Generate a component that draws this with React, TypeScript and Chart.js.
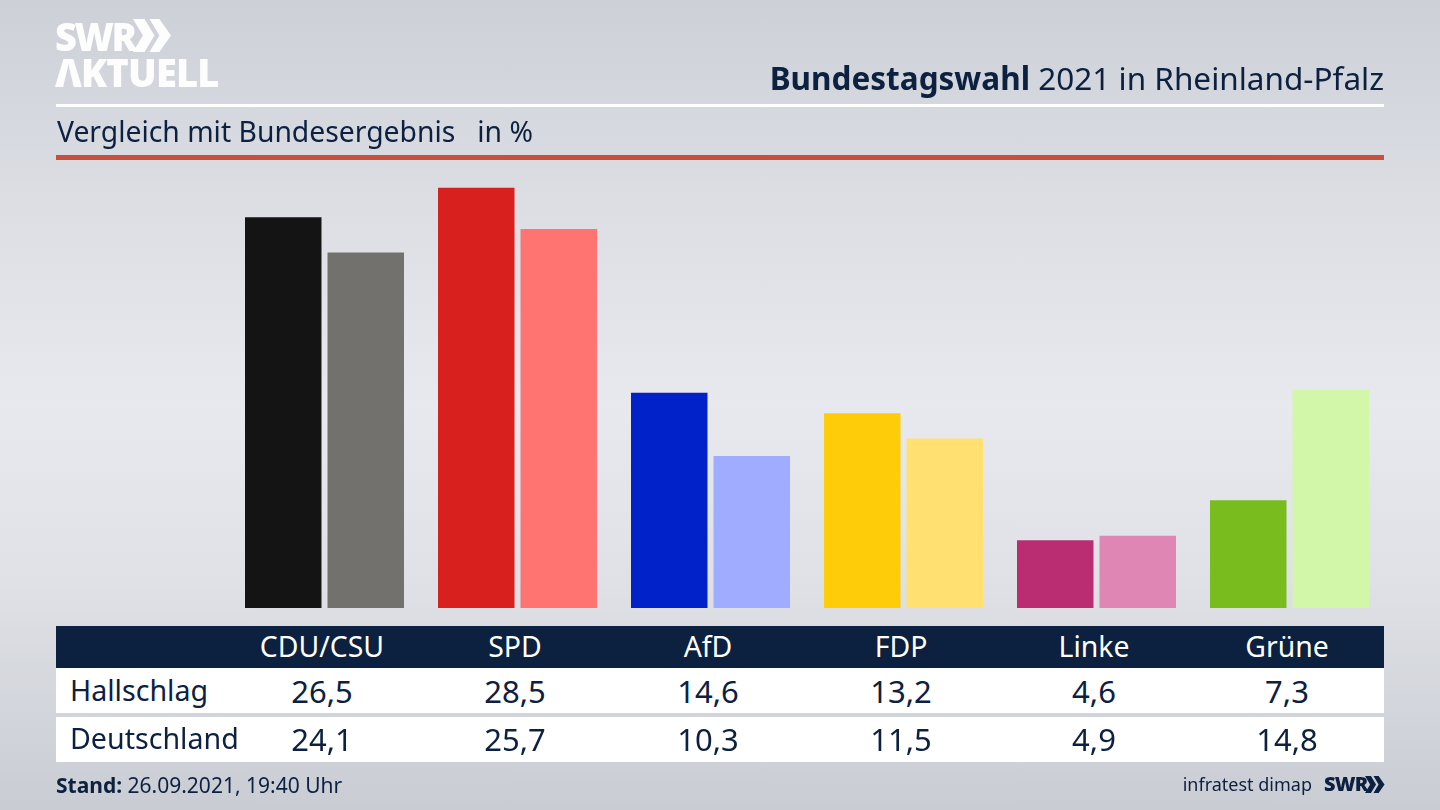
import { useEffect, useRef } from "react"
import Chart from "chart.js/auto"

// ── Data ─────────────────────────────────────────────────────
const PARTIES = ["CDU/CSU", "SPD", "AfD", "FDP", "Linke", "Grüne"]
const HALLSCHLAG = [26.5, 28.5, 14.6, 13.2, 4.6, 7.3]
const DEUTSCHLAND = [24.1, 25.7, 10.3, 11.5, 4.9, 14.8]
const COLORS_DARK = ["#141414", "#d8201f", "#0022c8", "#ffcc0a", "#bb2d73", "#78bc1e"]
const COLORS_LIGHT = ["#73716e", "#ff7470", "#a0acff", "#ffe070", "#e086b5", "#d2f7a8"]

const NAVY = "#0c2040"
const FONT = "'Noto Sans', sans-serif"
const COL_CENTER = [322, 515, 708, 901, 1094, 1287]

const fmt = (v: number) => v.toFixed(1).replace(".", ",")

function Txt({ x, y, size, children, color = NAVY, weight = 400, align = "left", spacing = 0 }: any) {
  const style: React.CSSProperties = {
    position: "absolute",
    top: y,
    fontSize: size,
    lineHeight: "1",
    color,
    fontWeight: weight,
    whiteSpace: "nowrap",
    letterSpacing: spacing,
    transform: align === "center" ? "translate(-50%, -50%)" : align === "right" ? "translate(-100%, -50%)" : "translateY(-50%)",
    left: x,
  }
  return <div style={style}>{children}</div>
}

function Rect({ x, y, w, h, color }: { x: number; y: number; w: number; h: number; color: string }) {
  return <div style={{ position: "absolute", left: x, top: y, width: w, height: h, background: color }} />
}

function Chevrons({ x, y, h, color }: { x: number; y: number; h: number; color: string }) {
  return (
    <svg style={{ position: "absolute", left: x, top: y }} width={h * 1.15} height={h} viewBox="0 0 23 20">
      <path d="M0 0h7l6 10-6 10H0l6-10zM10 0h6l7 10-7 10h-6l6-10z" fill={color} />
    </svg>
  )
}

export default function App() {
  const ref = useRef<HTMLCanvasElement>(null)

  useEffect(() => {
    document.body.style.margin = "0"
    if (!ref.current) return
    const chart = new Chart(ref.current, {
      type: "bar",
      data: {
        labels: PARTIES,
        datasets: [
          { label: "Hallschlag", data: HALLSCHLAG, backgroundColor: COLORS_DARK },
          { label: "Deutschland", data: DEUTSCHLAND, backgroundColor: COLORS_LIGHT },
        ],
      },
      options: {
        animation: false,
        responsive: false,
        categoryPercentage: 0.855,
        barPercentage: 0.927,
        layout: { padding: { left: 228, right: 54, top: 165.5, bottom: 202 } },
        plugins: { legend: { display: false }, tooltip: { enabled: false } },
        scales: {
          x: { display: false },
          y: { display: false, min: 0, max: 30 },
        },
      } as any,
    })
    return () => chart.destroy()
  }, [])

  return (
    <div
      style={{
        position: "relative",
        width: 1440,
        height: 810,
        overflow: "hidden",
        fontFamily: FONT,
        background: "linear-gradient(180deg, #cdd0d7 0%, #dcdee4 25%, #e8e9ee 50%, #dfe1e6 72%, #c9ccd3 100%)",
      }}
    >
      <canvas ref={ref} width={1440} height={810} style={{ position: "absolute", left: 0, top: 0, width: 1440, height: 810 }} />

      {/* logo */}
      <Txt x={55} y={36} size={38} weight={900} color="rgba(255,255,255,0.95)" spacing={-2.5}>SWR</Txt>
      <Chevrons x={133} y={19} h={33} color="rgba(255,255,255,0.95)" />
      <Txt x={55} y={72} size={38} weight={900} color="rgba(255,255,255,0.95)" spacing={-0.8}>ΛKTUELL</Txt>

      {/* heading */}
      <Txt x={1384} y={78} size={31.5} align="right">
        <span style={{ fontWeight: 700 }}>Bundestagswahl</span> 2021 in Rheinland-Pfalz
      </Txt>
      <Rect x={56} y={104} w={1328} h={3} color="#ffffff" />
      <Txt x={57} y={131} size={28.3}>Vergleich mit Bundesergebnis&nbsp;&nbsp; in %</Txt>
      <Rect x={56} y={155} w={1328} h={5} color="#c8503f" />

      {/* table */}
      <Rect x={56} y={626} w={1328} h={42} color={NAVY} />
      <Rect x={56} y={668} w={1328} h={45} color="#ffffff" />
      <Rect x={56} y={717} w={1328} h={45} color="#ffffff" />
      {PARTIES.map((p, i) => (
        <Txt key={p} x={COL_CENTER[i]} y={646} size={28.4} color="#ffffff" align="center">{p}</Txt>
      ))}
      <Txt x={70} y={690} size={28.6}>Hallschlag</Txt>
      <Txt x={70} y={738} size={28.6}>Deutschland</Txt>
      {HALLSCHLAG.map((v, i) => (
        <Txt key={i} x={COL_CENTER[i]} y={690.5} size={31} align="center">{fmt(v)}</Txt>
      ))}
      {DEUTSCHLAND.map((v, i) => (
        <Txt key={i} x={COL_CENTER[i]} y={738.5} size={31} align="center">{fmt(v)}</Txt>
      ))}

      {/* footer */}
      <Txt x={56} y={784.5} size={21}>
        <span style={{ fontWeight: 700 }}>Stand:</span> 26.09.2021, 19:40 Uhr
      </Txt>
      <Txt x={1312} y={784} size={18} align="right">infratest dimap</Txt>
      <Txt x={1324} y={784} size={20} weight={900} spacing={-0.8}>SWR</Txt>
      <Chevrons x={1365} y={776} h={17} color={NAVY} />
    </div>
  )
}
